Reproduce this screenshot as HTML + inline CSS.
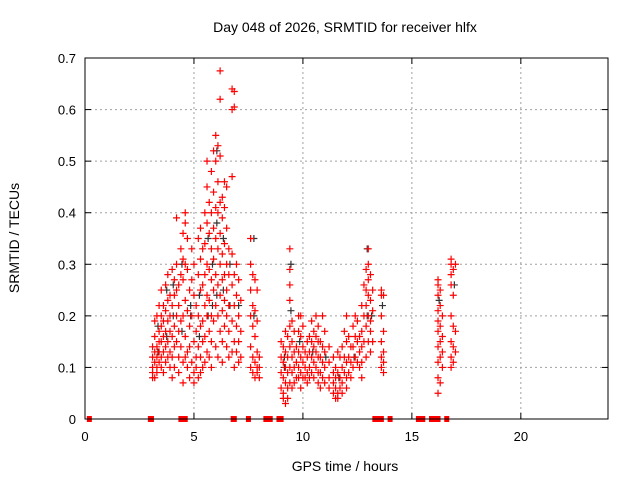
<!DOCTYPE html>
<html><head><meta charset="utf-8"><style>
body{margin:0;background:#fff;}
svg{display:block;font-family:"Liberation Sans",sans-serif;}
</style></head><body>
<svg id="chart" width="640" height="480" viewBox="0 0 640 480">
<rect width="640" height="480" fill="#fff"/>
<g id="grid"></g>
<g id="black"></g>
<g id="red"></g>
<g id="zeros"></g>
<rect x="85" y="58" width="523" height="361" fill="none" stroke="#000" stroke-width="1"/>
<g id="ticks"></g>
<text x="345" y="32" font-size="14" text-anchor="middle">Day 048 of 2026, SRMTID for receiver hlfx</text>
<text x="345" y="471" font-size="14" text-anchor="middle">GPS time / hours</text>
<text x="19" y="238" font-size="14" text-anchor="middle" transform="rotate(-90 19 238)">SRMTID / TECUs</text>
</svg>
<script>
const xTicks=[0,5,10,15,20];
const yTicks=[0,0.1,0.2,0.3,0.4,0.5,0.6,0.7];
const yTickLabels=["0","0.1","0.2","0.3","0.4","0.5","0.6","0.7"];
const redGroups=[
[3.1,[.08,.1,.12,.09,.14]],[3.2,[.11,.16,.08,.13,.19]],[3.3,[.1,.14,.12,.2,.09]],[3.4,[.15,.13,.17,.11,.22]],
[3.5,[.18,.2,.12,.15,.1,.25]],[3.6,[.16,.19,.22,.13,.09]],[3.7,[.17,.21,.14,.26,.11]],[3.8,[.19,.23,.28,.15,.12]],
[3.9,[.2,.17,.13,.24,.1]],[4.0,[.16,.22,.29,.12,.08]],[4.1,[.27,.24,.18,.1,.14]],[4.2,[.3,.25,.2,.15,.39]],
[4.3,[.26,.22,.17,.12,.09]],[4.4,[.33,.28,.19,.14]],[4.5,[.31,.27,.2,.11,.07,.36]],[4.6,[.4,.38,.3,.23,.16,.12]],
[4.7,[.35,.29,.21,.13,.1]],[4.8,[.25,.18,.14,.08]],[4.9,[.33,.27,.2,.11]],[5.0,[.3,.24,.15,.09,.07]],
[5.1,[.22,.17,.12,.1]],[5.2,[.28,.2,.14,.08,.35]],[5.3,[.37,.31,.25,.18,.12,.09]],[5.4,[.33,.26,.19,.15,.1]],
[5.5,[.4,.34,.28,.22,.16,.11]],[5.6,[.5,.45,.38,.3,.24,.2,.13]],[5.7,[.42,.36,.29,.23,.17,.12]],
[5.8,[.48,.4,.33,.27,.2,.15,.1]],[5.9,[.52,.44,.37,.31,.25,.19]],[6.0,[.55,.5,.41,.35,.28,.22,.14]],
[6.1,[.53,.46,.4,.33,.26,.2,.12]],[6.2,[.675,.62,.51,.42,.36,.3,.24,.17]],[6.3,[.43,.39,.32,.27,.21,.15,.11]],
[6.4,[.46,.41,.34,.28,.23,.18]],[6.5,[.45,.37,.3,.25,.2,.14]],[6.6,[.33,.28,.22,.17,.12]],
[6.75,[.64,.6,.47,.32,.26,.19,.13]],[6.85,[.635,.605,.28,.22,.15,.1]],[6.95,[.3,.24,.18,.13]],[7.05,[.27,.2,.15,.11]],
[7.15,[.23,.17,.12]],[7.6,[.35,.3,.25,.2,.14,.1]],[7.7,[.28,.22,.18,.12,.09]],[7.8,[.27,.21,.16,.11,.08]],
[7.9,[.25,.19,.13,.1,.09]],[8.0,[.12,.1,.08]],
[9.0,[.15,.12,.09,.06]],[9.1,[.14,.11,.08,.05,.04]],[9.2,[.17,.13,.1,.07,.03]],[9.3,[.16,.12,.09,.06,.04]],
[9.4,[.33,.29,.26,.23,.18,.14,.1,.07]],[9.5,[.19,.15,.12,.09,.06]],[9.6,[.17,.13,.1,.07]],[9.7,[.14,.11,.08]],
[9.8,[.2,.17,.13,.1,.08]],[9.9,[.2,.16,.12,.09,.06]],[10.0,[.18,.14,.11,.08]],[10.1,[.13,.1,.08]],
[10.2,[.15,.12,.09,.07]],[10.3,[.16,.13,.1,.08]],[10.4,[.19,.15,.12,.09]],[10.5,[.17,.14,.11,.08]],
[10.6,[.2,.16,.13,.1]],[10.7,[.18,.15,.12,.09,.07]],[10.8,[.15,.12,.09,.06]],[10.9,[.2,.14,.11,.08]],
[11.0,[.17,.13,.1,.07]],[11.2,[.14,.11,.08,.06]],[11.4,[.12,.09,.07,.05]],[11.5,[.1,.08,.06,.04]],
[11.6,[.13,.09,.05,.04]],[11.7,[.12,.08,.06]],[11.8,[.14,.1,.07,.05]],[11.9,[.17,.12,.09]],
[12.0,[.2,.15,.11,.08,.06]],[12.1,[.16,.12,.09]],[12.2,[.14,.11,.08]],[12.3,[.18,.14,.1]],[12.4,[.2,.16,.12]],
[12.5,[.19,.15,.11]],[12.6,[.16,.13,.1]],[12.7,[.22,.17,.14,.11,.08]],[12.8,[.26,.2,.15]],
[12.9,[.29,.25,.22,.18,.12]],[13.0,[.33,.3,.27,.24,.2,.15]],[13.1,[.28,.23,.19,.17,.13]],[13.2,[.25,.21,.15]],
[13.6,[.25,.24,.2,.15,.12,.1]],[13.7,[.24,.17,.13,.11,.09]],
[16.2,[.27,.26,.24,.21,.19,.17,.14,.11,.08,.05]],[16.3,[.25,.22,.18,.15,.12,.07]],[16.4,[.2,.16,.13,.1]],
[16.8,[.31,.3,.28,.26,.2,.15,.12,.1]],[16.9,[.29,.24,.18,.14,.11]],[17.0,[.3,.17,.13]]
];
const blackGroups=[
[3.3,[.13,.18]],[3.7,[.25,.16]],[4.0,[.26,.2]],[4.4,[.3,.17]],[4.8,[.2,.22]],[5.2,[.24,.16]],
[5.6,[.35,.2]],[5.8,[.3,.22]],[6.0,[.52,.38,.24]],[6.3,[.35,.25]],[6.6,[.3,.22]],[7.0,[.22]],
[7.7,[.35,.2]],[9.1,[.12,.1]],[9.4,[.3,.21]],[9.8,[.15]],[10.4,[.13]],[11.0,[.12]],[11.6,[.08]],
[12.3,[.12]],[12.9,[.2,.33]],[13.1,[.2]],[13.6,[.22]],[16.2,[.23]],[16.9,[.26]]
];
const zeroTimes=[0.2,3.0,3.05,4.4,4.5,4.6,6.8,6.85,7.5,8.3,8.4,8.5,8.9,9.0,13.3,13.4,13.6,14.0,15.3,15.5,15.9,16.0,16.1,16.2,16.6];
const NS="http://www.w3.org/2000/svg";
const X0=85,X1=608,Y0=419,Y1=58;
function xs(t){return X0+t/24*(X1-X0);}
function ys(v){return Y0-v/0.7*(Y0-Y1);}
function mk(tag,attrs,parent){const e=document.createElementNS(NS,tag);for(const k in attrs)e.setAttribute(k,attrs[k]);parent.appendChild(e);return e;}
const grid=document.getElementById('grid'),ticks=document.getElementById('ticks');
xTicks.forEach((t,i)=>{
 if(t>0){const l=mk('line',{x1:xs(t),x2:xs(t),y1:Y0,y2:Y1,stroke:'#a0a0a0','stroke-dasharray':'2,3'},grid);
 
 }
 mk('line',{x1:xs(t),x2:xs(t),y1:Y0,y2:Y0-6,stroke:'#000'},ticks);
 mk('line',{x1:xs(t),x2:xs(t),y1:Y1,y2:Y1+6,stroke:'#000'},ticks);
 const tx=mk('text',{x:xs(t),y:Y0+22,'font-size':13,'text-anchor':'middle'},ticks);tx.textContent=t;
 
 
});
yTicks.forEach((v,i)=>{
 if(v>0&&v<0.7){const l=mk('line',{x1:X0,x2:X1,y1:ys(v),y2:ys(v),stroke:'#a0a0a0','stroke-dasharray':'2,3'},grid);
 
 }
 mk('line',{x1:X0,x2:X0+6,y1:ys(v),y2:ys(v),stroke:'#000'},ticks);
 mk('line',{x1:X1,x2:X1-6,y1:ys(v),y2:ys(v),stroke:'#000'},ticks);
 const tx=mk('text',{x:X0-9,y:ys(v)+5,'font-size':13,'text-anchor':'end'},ticks);tx.textContent=yTickLabels[i];
 
 
});
function plus(g,t,v,c,name){const x=xs(t),y=ys(v);
 const p=mk('path',{d:`M${x-3.5},${y}H${x+3.5}M${x},${y-3.5}V${y+3.5}`,stroke:c,'stroke-width':1.2,fill:'none'},g);
 
 }
const bg=document.getElementById('black');
blackGroups.forEach(([t,vs])=>vs.forEach(v=>plus(bg,t+0.05,v,'#333','black-point')));
const rg=document.getElementById('red');
redGroups.forEach(([t,vs])=>vs.forEach(v=>plus(rg,t,v,'#f00','red-point')));
const zg=document.getElementById('zeros');
zeroTimes.forEach(t=>{const r=mk('rect',{x:xs(t)-2.5,y:Y0-3,width:5,height:6,fill:'#f00'},zg);
 
 });
</script>
</body></html>
